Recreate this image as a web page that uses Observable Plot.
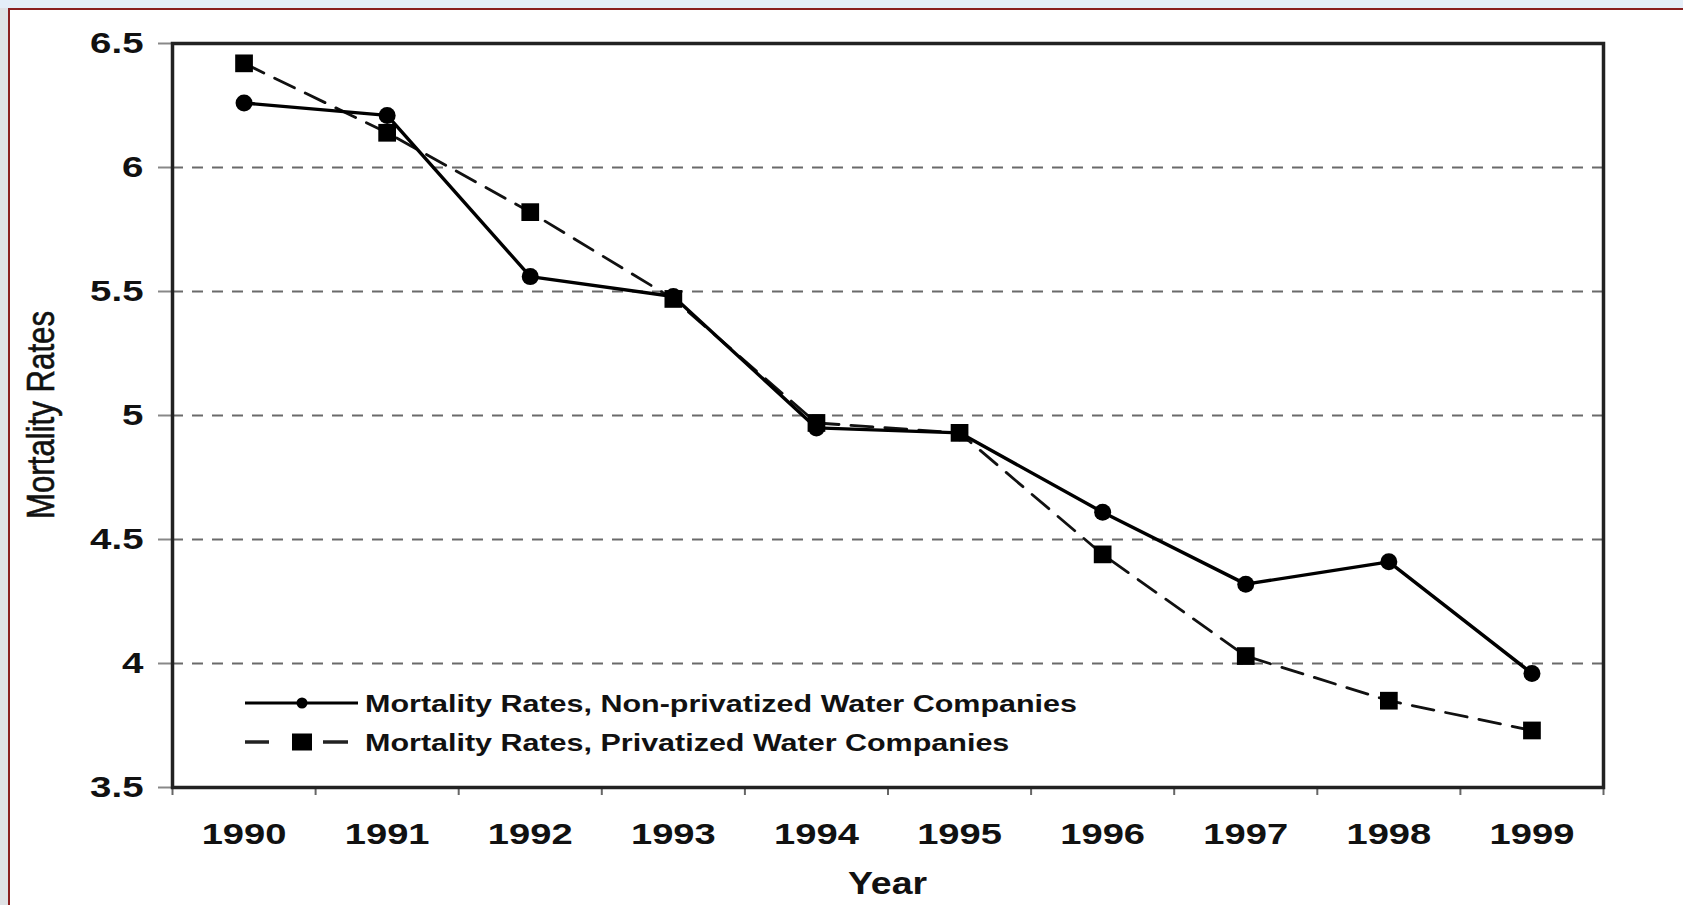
<!DOCTYPE html>
<html>
<head>
<meta charset="utf-8">
<script src="https://cdn.jsdelivr.net/npm/d3@7"></script>
<script src="https://cdn.jsdelivr.net/npm/@observablehq/plot@0.6"></script>
<style>
  html, body { margin: 0; padding: 0; width: 1683px; height: 905px; overflow: hidden; background: #dfe2e5; }
  #topstrip { position: absolute; left: 0; top: 0; width: 1683px; height: 8px; background: #e4eef8; }
  #frame { position: absolute; left: 8px; top: 8px; width: 1673px; height: 895px; background: #fff;
           border-top: 2px solid #8a1f1f; border-left: 2px solid #8a1f1f; }
  #frame svg { display: block; }
</style>
</head>
<body>
<div id="topstrip"></div>
<div id="frame"></div>
<script>
// ---- data ----
const years = [1990, 1991, 1992, 1993, 1994, 1995, 1996, 1997, 1998, 1999];
const nonPrivatized = [6.26, 6.21, 5.56, 5.48, 4.95, 4.93, 4.61, 4.32, 4.41, 3.96];
const privatized    = [6.42, 6.14, 5.82, 5.47, 4.97, 4.93, 4.44, 4.03, 3.85, 3.73];
const yTicks = [3.5, 4, 4.5, 5, 5.5, 6, 6.5];
const gridValues = [4, 4.5, 5, 5.5, 6];
const seriesNames = [
  "Mortality Rates, Non-privatized Water Companies",
  "Mortality Rates, Privatized Water Companies"
];
const xTitle = "Year";
const yTitle = "Mortality Rates";

const rows = years.map((year, i) => ({ year, nonPriv: nonPrivatized[i], priv: privatized[i] }));
const boundaries = years.map(y => y - 0.5).concat([years[years.length - 1] + 0.5]);

const W = 1673, H = 895, mL = 162, mR = 80, mT = 33, mB = 118;
const FONT = "'Liberation Sans', Arial, Helvetica, sans-serif";

const chart = Plot.plot({
  width: W, height: H,
  marginLeft: mL, marginRight: mR, marginTop: mT, marginBottom: mB,
  style: { fontFamily: FONT, background: "transparent", color: "#111", overflow: "visible" },
  x: { type: "linear", domain: [boundaries[0], boundaries[boundaries.length - 1]] },
  y: { domain: [3.5, 6.5] },
  marks: [
    Plot.ruleY(gridValues, { stroke: "#6a6a6a", strokeWidth: 1.8, strokeDasharray: "11,9" }),
    Plot.axisY({ ticks: yTicks, tickSize: 14, tickPadding: 15, tickFormat: d => String(d),
                 label: null, stroke: "#888", strokeWidth: 2 }),
    Plot.axisX({ ticks: years, tickSize: 0, tickPadding: 35, tickFormat: d => String(d), label: null }),
    Plot.axisX({ ticks: boundaries, tickSize: 8, tickFormat: () => "", label: null,
                 stroke: "#666", strokeWidth: 2 }),
    Plot.frame({ stroke: "#222", strokeWidth: 3.5 }),
    Plot.line(rows, { x: "year", y: "priv", stroke: "#111", strokeWidth: 2.8, strokeDasharray: "22,12" }),
    Plot.line(rows, { x: "year", y: "nonPriv", stroke: "#000", strokeWidth: 3.4 }),
    Plot.dot(rows, { x: "year", y: "priv", symbol: "square", r: 10, fill: "#000", stroke: "none" }),
    Plot.dot(rows, { x: "year", y: "nonPriv", symbol: "circle", r: 8.5, fill: "#000", stroke: "none" })
  ]
});

document.getElementById("frame").appendChild(chart);
const svg = d3.select(chart);

function stretch(sel, factor) {
  sel.each(function () {
    const n = this.getComputedTextLength();
    if (n > 0) {
      this.setAttribute("textLength", (n * factor).toFixed(1));
      this.setAttribute("lengthAdjust", "spacingAndGlyphs");
    }
  });
}

// tick labels
const yLab = svg.selectAll('g[aria-label="y-axis tick label"] text');
yLab.attr("font-size", 30).attr("font-weight", "bold").attr("fill", "#111");
const xLab = svg.selectAll('g[aria-label="x-axis tick label"] text');
xLab.attr("font-size", 30).attr("font-weight", "bold").attr("fill", "#111");
stretch(yLab, 1.28);
stretch(xLab.filter(function () { return this.textContent.length > 0; }), 1.27);

// axis titles
const xt = svg.append("text")
  .attr("x", (mL + W - mR) / 2).attr("y", 883.5)
  .attr("text-anchor", "middle").attr("font-family", FONT)
  .attr("font-size", 32).attr("font-weight", "bold").attr("fill", "#111")
  .text(xTitle);
stretch(xt, 1.17);

svg.append("text")
  .attr("transform", `translate(44,${(mT + H - mB) / 2}) rotate(-90)`)
  .attr("text-anchor", "middle").attr("font-family", FONT)
  .attr("font-size", 38).attr("fill", "#111").attr("stroke", "#111").attr("stroke-width", 0.6)
  .attr("textLength", 208).attr("lengthAdjust", "spacingAndGlyphs")
  .text(yTitle);

// legend (inside the plot frame, lower left)
const lg = svg.append("g").attr("font-family", FONT).attr("text-anchor", "start");
const y1 = 693, y2 = 732, lx0 = 235, lx1 = 348, mx = 292, tx = 355;
lg.append("line").attr("x1", lx0).attr("x2", lx1).attr("y1", y1).attr("y2", y1)
  .attr("stroke", "#000").attr("stroke-width", 3);
lg.append("circle").attr("cx", mx).attr("cy", y1).attr("r", 5.5).attr("fill", "#000");
lg.append("line").attr("x1", lx0).attr("x2", 259).attr("y1", y2).attr("y2", y2)
  .attr("stroke", "#222").attr("stroke-width", 3.5);
lg.append("line").attr("x1", 313).attr("x2", 338).attr("y1", y2).attr("y2", y2)
  .attr("stroke", "#222").attr("stroke-width", 3.5);
lg.append("rect").attr("x", mx - 10).attr("y", y2 - 8.5).attr("width", 20).attr("height", 17).attr("fill", "#000");
const t1 = lg.append("text").attr("x", tx).attr("y", y1).attr("dy", "0.36em").attr("text-anchor", "start")
  .attr("font-size", 24).attr("font-weight", "bold").attr("fill", "#111").text(seriesNames[0]);
const t2 = lg.append("text").attr("x", tx).attr("y", y2).attr("dy", "0.36em").attr("text-anchor", "start")
  .attr("font-size", 24).attr("font-weight", "bold").attr("fill", "#111").text(seriesNames[1]);
const f = 712 / t1.node().getComputedTextLength();
stretch(t1, f);
stretch(t2, f);
</script>
</body>
</html>
